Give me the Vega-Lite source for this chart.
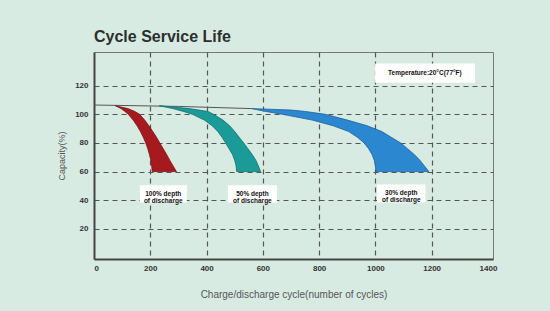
{
  "$schema": "https://vega.github.io/schema/vega-lite/v6.json",
  "width": 399,
  "height": 207,
  "autosize": "none",
  "padding": {"left": 94, "top": 52, "right": 57, "bottom": 52},
  "background": "#d8ebe3",
  "title": {
    "text": "Cycle Service Life",
    "anchor": "start",
    "frame": "group",
    "font": "Liberation Sans",
    "fontSize": 16,
    "fontWeight": "bold",
    "color": "#2e2e2e",
    "offset": 7
  },
  "config": {
    "view": {"stroke": "#777", "strokeWidth": 1},
    "axis": {
      "domainColor": "#444",
      "domainWidth": 2,
      "ticks": false,
      "labelFont": "Liberation Sans",
      "labelFontSize": 8,
      "labelFontWeight": "bold",
      "labelColor": "#333",
      "titleFont": "Liberation Sans",
      "titleFontWeight": "normal",
      "titleColor": "#555",
      "gridColor": "#555",
      "gridDash": [5, 4],
      "gridWidth": 1.2
    }
  },
  "datasets": {
    "bands": [
      {"s": "100", "y": 106, "xl": 76, "xr": 76},
      {"s": "100", "y": 104, "xl": 96, "xr": 120},
      {"s": "100", "y": 102, "xl": 110, "xr": 145},
      {"s": "100", "y": 100, "xl": 122, "xr": 162},
      {"s": "100", "y": 96, "xl": 139, "xr": 180},
      {"s": "100", "y": 92, "xl": 153, "xr": 195},
      {"s": "100", "y": 88, "xl": 165, "xr": 209},
      {"s": "100", "y": 84, "xl": 175, "xr": 222},
      {"s": "100", "y": 80, "xl": 184, "xr": 234},
      {"s": "100", "y": 76, "xl": 191, "xr": 246},
      {"s": "100", "y": 72, "xl": 197, "xr": 258},
      {"s": "100", "y": 68, "xl": 202, "xr": 269},
      {"s": "100", "y": 64, "xl": 205, "xr": 281},
      {"s": "100", "y": 60, "xl": 207, "xr": 293},
      {"s": "50", "y": 106, "xl": 232, "xr": 232},
      {"s": "50", "y": 104, "xl": 280, "xr": 338},
      {"s": "50", "y": 102, "xl": 318, "xr": 405},
      {"s": "50", "y": 100, "xl": 350, "xr": 425},
      {"s": "50", "y": 96, "xl": 392, "xr": 458},
      {"s": "50", "y": 92, "xl": 420, "xr": 482},
      {"s": "50", "y": 88, "xl": 440, "xr": 500},
      {"s": "50", "y": 84, "xl": 455, "xr": 516},
      {"s": "50", "y": 80, "xl": 468, "xr": 532},
      {"s": "50", "y": 76, "xl": 480, "xr": 547},
      {"s": "50", "y": 72, "xl": 492, "xr": 562},
      {"s": "50", "y": 68, "xl": 500, "xr": 575},
      {"s": "50", "y": 64, "xl": 505, "xr": 584},
      {"s": "50", "y": 60, "xl": 507, "xr": 592},
      {"s": "30", "y": 104, "xl": 560, "xr": 560},
      {"s": "30", "y": 103, "xl": 585, "xr": 700},
      {"s": "30", "y": 102, "xl": 610, "xr": 751},
      {"s": "30", "y": 100, "xl": 670, "xr": 822},
      {"s": "30", "y": 96, "xl": 775, "xr": 900},
      {"s": "30", "y": 92, "xl": 850, "xr": 971},
      {"s": "30", "y": 88, "xl": 905, "xr": 1023},
      {"s": "30", "y": 84, "xl": 936, "xr": 1056},
      {"s": "30", "y": 80, "xl": 960, "xr": 1090},
      {"s": "30", "y": 76, "xl": 976, "xr": 1114},
      {"s": "30", "y": 72, "xl": 988, "xr": 1138},
      {"s": "30", "y": 68, "xl": 996, "xr": 1158},
      {"s": "30", "y": 64, "xl": 1000, "xr": 1174},
      {"s": "30", "y": 60, "xl": 1002, "xr": 1190}
    ],
    "topline": [
      {"x": 0, "y": 106.5},
      {"x": 300, "y": 105.5},
      {"x": 560, "y": 104}
    ],
    "boxes": [
      {"x1": 163, "x2": 330, "y1": 38.5, "y2": 50.5},
      {"x1": 476, "x2": 650, "y1": 38.5, "y2": 50.5},
      {"x1": 1006, "x2": 1178, "y1": 38.5, "y2": 51},
      {"x1": 999, "x2": 1354, "y1": 122, "y2": 135.4}
    ],
    "labels": [
      {"x": 246, "y": 44.5, "t": "100% depth\nof discharge"},
      {"x": 563, "y": 44.5, "t": "50% depth\nof discharge"},
      {"x": 1092, "y": 44.8, "t": "30% depth\nof discharge"},
      {"x": 1176, "y": 128.7, "t": "Temperature:20°C(77°F)"}
    ]
  },
  "layer": [
    {
      "data": {"name": "topline"},
      "mark": {"type": "line", "color": "#555", "strokeWidth": 1},
      "encoding": {
        "x": {
          "field": "x", "type": "quantitative",
          "scale": {"domain": [0, 1418], "nice": false, "zero": false},
          "axis": {
            "values": [0, 200, 400, 600, 800, 1000, 1200, 1400],
            "format": "d",
            "title": "Charge/discharge cycle(number of cycles)",
            "titleFontSize": 10,
            "titlePadding": 17,
            "labelPadding": 5,
            "grid": true,
            "gridOpacity": {"condition": {"test": "datum.value == 0 || datum.value == 1400", "value": 0}, "value": 1}
          }
        },
        "y": {
          "field": "y", "type": "quantitative",
          "scale": {"domain": [-1, 143.5], "nice": false, "zero": false},
          "axis": {
            "values": [20, 40, 60, 80, 100, 120],
            "title": "Capacity(%)",
            "titleFontSize": 9,
            "titlePadding": 8,
            "labelPadding": 6,
            "grid": true
          }
        }
      }
    },
    {
      "data": {"name": "bands"},
      "mark": {"type": "area", "orient": "horizontal", "strokeWidth": 0.8},
      "encoding": {
        "y": {"field": "y", "type": "quantitative"},
        "x": {"field": "xl", "type": "quantitative"},
        "x2": {"field": "xr"},
        "color": {
          "field": "s", "type": "nominal", "legend": null,
          "scale": {"domain": ["100", "50", "30"], "range": ["#a6191e", "#1b9b98", "#2b87cf"]}
        },
        "stroke": {
          "field": "s", "type": "nominal", "legend": null,
          "scale": {"domain": ["100", "50", "30"], "range": ["#7a1014", "#0f6f6d", "#1c5f9a"]}
        }
      }
    },
    {
      "data": {"name": "boxes"},
      "mark": {"type": "rect", "fill": "#ffffff"},
      "encoding": {
        "x": {"field": "x1", "type": "quantitative"},
        "x2": {"field": "x2"},
        "y": {"field": "y1", "type": "quantitative"},
        "y2": {"field": "y2"}
      }
    },
    {
      "data": {"name": "labels"},
      "mark": {"type": "text", "font": "Liberation Sans", "fontSize": 6.5, "fontWeight": "bold", "fill": "#111111", "lineBreak": "\n", "lineHeight": 7, "align": "center", "baseline": "middle"},
      "encoding": {
        "x": {"field": "x", "type": "quantitative"},
        "y": {"field": "y", "type": "quantitative"},
        "text": {"field": "t"}
      }
    }
  ]
}
